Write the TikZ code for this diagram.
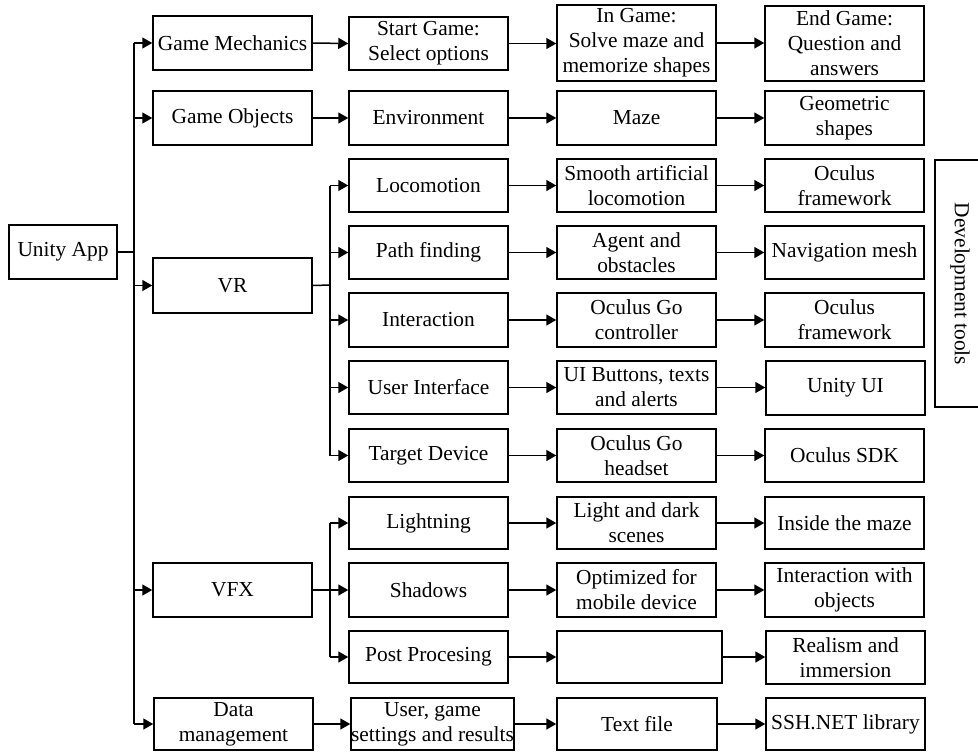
\documentclass[tikz,border=0pt]{standalone}
\usepackage{fontspec}
\setmainfont{Liberation Serif}
\usetikzlibrary{arrows.meta}
\newcommand\bx[6]{\node[box, minimum width={0.5pt*(#4-#2)}, minimum height={0.5pt*(#5-#3)}] (#1) at ({(#2+#4)/2},{(#3+#5)/2}) {#6};}
\begin{document}
\begin{tikzpicture}[x=0.5pt,y=-0.5pt,
  box/.style={draw, line width=0.75pt, inner sep=0pt, align=center, font=\fontsize{10.7}{12.5}\selectfont},
  ln/.style={line width=0.75pt},
  arr/.style={line width=0.75pt, -{Triangle[length=5pt,width=5.5pt]}}]
\useasboundingbox (0,0) rectangle (978,751);
\clip (0,0) rectangle (978,751);
% column 1
\bx{ua}{9}{225}{117}{279}{Unity App}
% column 2
\bx{gm}{153}{16}{312}{70}{Game Mechanics}
\bx{go}{153}{91}{312}{145}{Game Objects}
\bx{vr}{153}{258}{312}{313}{VR}
\bx{vfx}{153}{563}{312}{617}{VFX}
\bx{dm}{154}{698}{313}{750}{Data\\management}
% column 3
\bx{c1}{349}{17}{508}{70}{Start Game:\\Select options}
\bx{c2}{349}{91}{508}{145}{Environment}
\bx{c3}{349}{159}{508}{212}{Locomotion}
\bx{c4}{349}{226}{508}{279}{Path finding}
\bx{c5}{349}{293}{508}{347}{Interaction}
\bx{c6}{349}{361}{508}{414}{User Interface}
\bx{c7}{349}{429}{508}{482}{Target Device}
\bx{c8}{349}{497}{508}{549}{Lightning}
\bx{c9}{349}{563}{508}{617}{Shadows}
\bx{c10}{349}{631}{508}{683}{Post Procesing}
\bx{c11}{351}{698}{514}{750}{User, game\\settings and results}
% column 4
\bx{d1}{557}{5}{716}{81}{In Game:\\Solve maze and\\memorize shapes}
\bx{d2}{557}{91}{716}{145}{Maze}
\bx{d3}{557}{159}{716}{212}{Smooth artificial\\locomotion}
\bx{d4}{557}{226}{716}{279}{Agent and\\obstacles}
\bx{d5}{557}{293}{716}{347}{Oculus Go\\controller}
\bx{d6}{557}{361}{716}{414}{UI Buttons, texts\\and alerts}
\bx{d7}{557}{429}{716}{482}{Oculus Go\\headset}
\bx{d8}{557}{497}{716}{549}{Light and dark\\scenes}
\bx{d9}{557}{563}{716}{617}{Optimized for\\mobile device}
\bx{d10}{557}{631}{722}{683}{}
\bx{d11}{557}{698}{717}{750}{Text file}
% column 5
\bx{e1}{765}{6}{924}{81}{End Game:\\Question and\\answers}
\bx{e2}{765}{91}{924}{145}{Geometric\\shapes}
\bx{e3}{765}{159}{924}{212}{Oculus\\framework}
\bx{e4}{765}{226}{924}{279}{Navigation mesh}
\bx{e5}{765}{293}{924}{347}{Oculus\\framework}
\bx{e6}{766}{361}{925}{415}{Unity UI}
\bx{e7}{765}{429}{924}{482}{Oculus SDK}
\bx{e8}{765}{497}{924}{549}{Inside the maze}
\bx{e9}{765}{563}{924}{617}{Interaction with\\objects}
\bx{e10}{766}{631}{925}{684}{Realism and\\immersion}
\bx{e11}{766}{698}{925}{750}{SSH.NET library}
% development tools
\draw[line width=0.75pt] (990,160) -- (935,160) -- (935,407) -- (990,407);
\node[rotate=-90, font=\fontsize{10.7}{12.5}\selectfont] (dev) at (960,284) {Development tools};
% trunk
\coordinate (t) at (134,252);
\draw[ln] (ua.east) -- (t);
\draw[ln] (t |- gm.west) -- (t |- dm.west);
\foreach \n in {gm,go,vr,vfx,dm} \draw[arr] (t |- \n.west) -- (\n.west);
% VR branch
\coordinate (v) at (330,285);
\draw[ln] (vr.east) -- (v);
\draw[ln] (v |- c3.west) -- (v |- c7.west);
\foreach \n in {c3,c4,c5,c6,c7} \draw[arr] (v |- \n.west) -- (\n.west);
% VFX branch
\coordinate (f) at (330,590);
\draw[ln] (vfx.east) -- (f);
\draw[ln] (f |- c8.west) -- (f |- c10.west);
\foreach \n in {c8,c9,c10} \draw[arr] (f |- \n.west) -- (\n.west);
% direct
\draw[arr] (gm.east) -- (c1.west);
\draw[arr] (go.east) -- (c2.west);
\draw[arr] (dm.east) -- (c11.west);
\foreach \i in {1,...,11} {
  \draw[arr] (c\i.east) -- (c\i.east -| d\i.west);
  \draw[arr] (d\i.east) -- (d\i.east -| e\i.west);
}
\end{tikzpicture}
\end{document}
